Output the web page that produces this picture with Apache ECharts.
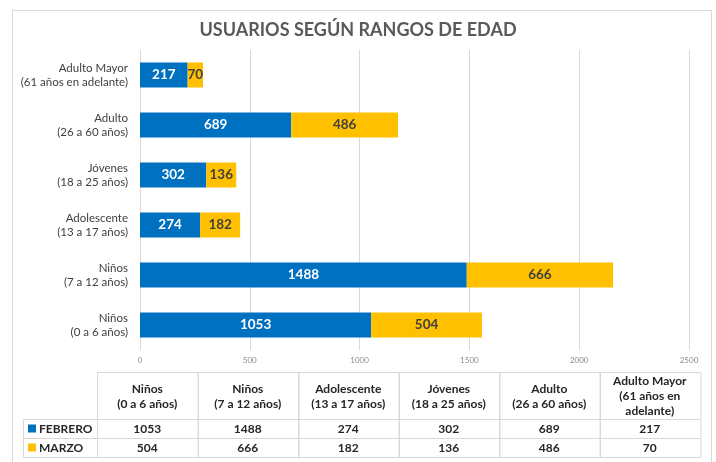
<!DOCTYPE html>
<html>
<head>
<meta charset="utf-8">
<script src="https://cdn.jsdelivr.net/npm/echarts@6/dist/echarts.min.js"></script>
<style>
html,body{margin:0;padding:0;background:#fff;}
#chart{width:716px;height:462px;}
</style>
</head>
<body>
<div id="chart"></div>
<script>
const categories = ['Niños\n(0 a 6 años)', 'Niños\n(7 a 12 años)', 'Adolescente\n(13 a 17 años)', 'Jóvenes\n(18 a 25 años)', 'Adulto\n(26 a 60 años)', 'Adulto Mayor\n(61 años en adelante)'];
const tableHeaders = ['Niños\n(0 a 6 años)', 'Niños\n(7 a 12 años)', 'Adolescente\n(13 a 17 años)', 'Jóvenes\n(18 a 25 años)', 'Adulto\n(26 a 60 años)', 'Adulto Mayor\n(61 años en\nadelante)'];
const seriesNames = ['FEBRERO', 'MARZO'];
const febrero = [1053, 1488, 274, 302, 689, 217];
const marzo = [504, 666, 182, 136, 486, 70];
const xTicks = [0, 500, 1000, 1500, 2000, 2500];

const FONT = 'Lato';
const colors = ['#0070C0', '#FFC000'];
const gridC = '#D9D9D9';

const chart = echarts.init(document.getElementById('chart'), null, {renderer: 'canvas'});

// Build data table graphics from the arrays
const g = [];
g.push({type: 'rect', shape: {x: 12.5, y: 10.5, width: 699, height: 470}, style: {fill: 'none', stroke: gridC, lineWidth: 1}, silent: true});
const tx0 = 97, colW = 100.5, hTop = 372, hBot = 419, rowH = 19, labL = 23;
const rows = [febrero, marzo];
// header cells
for (let i = 0; i < tableHeaders.length; i++) {
  const x = tx0 + i * colW;
  g.push({type: 'rect', shape: {x: Math.round(x) + 0.5, y: hTop + 0.5, width: colW, height: hBot - hTop}, style: {fill: 'none', stroke: gridC, lineWidth: 1}, silent: true});
  g.push({type: 'text', x: x + colW / 2, y: (hTop + hBot) / 2 + 1, style: {text: tableHeaders[i], align: 'center', verticalAlign: 'middle', fontFamily: FONT, fontSize: 12, fontWeight: 'bold', lineHeight: 15, fill: '#262626'}, silent: true});
}
// data rows
for (let r = 0; r < rows.length; r++) {
  const y = hBot + r * rowH;
  g.push({type: 'rect', shape: {x: labL + 0.5, y: y + 0.5, width: tx0 - labL, height: rowH}, style: {fill: 'none', stroke: gridC, lineWidth: 1}, silent: true});
  g.push({type: 'rect', shape: {x: 28, y: y + rowH / 2 - 4, width: 8, height: 8}, style: {fill: colors[r]}, silent: true});
  g.push({type: 'text', x: 39, y: y + rowH / 2 + 1, style: {text: seriesNames[r], align: 'left', verticalAlign: 'middle', fontFamily: FONT, fontSize: 12, fontWeight: 'bold', fill: '#262626'}, silent: true});
  for (let i = 0; i < rows[r].length; i++) {
    const x = tx0 + i * colW;
    g.push({type: 'rect', shape: {x: Math.round(x) + 0.5, y: y + 0.5, width: colW, height: rowH}, style: {fill: 'none', stroke: gridC, lineWidth: 1}, silent: true});
    g.push({type: 'text', x: x + colW / 2, y: y + rowH / 2 + 1, style: {text: String(rows[r][i]), align: 'center', verticalAlign: 'middle', fontFamily: FONT, fontSize: 12, fontWeight: 'bold', fill: '#262626'}, silent: true});
  }
}

const option = {
  animation: false,
  backgroundColor: '#fff',
  title: {
    text: 'USUARIOS SEGÚN RANGOS DE EDAD',
    left: 'center', top: 16,
    textStyle: {fontFamily: FONT, fontSize: 18, fontWeight: 'bold', color: '#595959'}
  },
  grid: {left: 140, right: 27, top: 50, bottom: 112},
  xAxis: {
    type: 'value', min: xTicks[0], max: xTicks[xTicks.length - 1], interval: xTicks[1] - xTicks[0],
    axisLine: {show: false}, axisTick: {show: false},
    splitLine: {show: true, lineStyle: {color: gridC, width: 1}},
    axisLabel: {fontFamily: FONT, fontSize: 8, color: '#8C8C8C', margin: 6, formatter: v => String(v)}
  },
  yAxis: {
    type: 'category', data: categories,
    axisLine: {show: false}, axisTick: {show: false},
    axisLabel: {fontFamily: FONT, fontSize: 11.5, color: '#404040', margin: 12, lineHeight: 14, align: 'right'}
  },
  series: [
    {name: seriesNames[0], type: 'bar', stack: 'total', data: febrero, barWidth: 25,
     itemStyle: {color: colors[0]},
     label: {show: true, position: 'inside', fontFamily: FONT, fontSize: 13.5, fontWeight: 'bold', color: '#fff'}},
    {name: seriesNames[1], type: 'bar', stack: 'total', data: marzo, barWidth: 25,
     itemStyle: {color: colors[1]},
     label: {show: true, position: 'inside', fontFamily: FONT, fontSize: 13.5, fontWeight: 'bold', color: '#404040'}}
  ],
  graphic: g
};
chart.setOption(option);
</script>
</body>
</html>
